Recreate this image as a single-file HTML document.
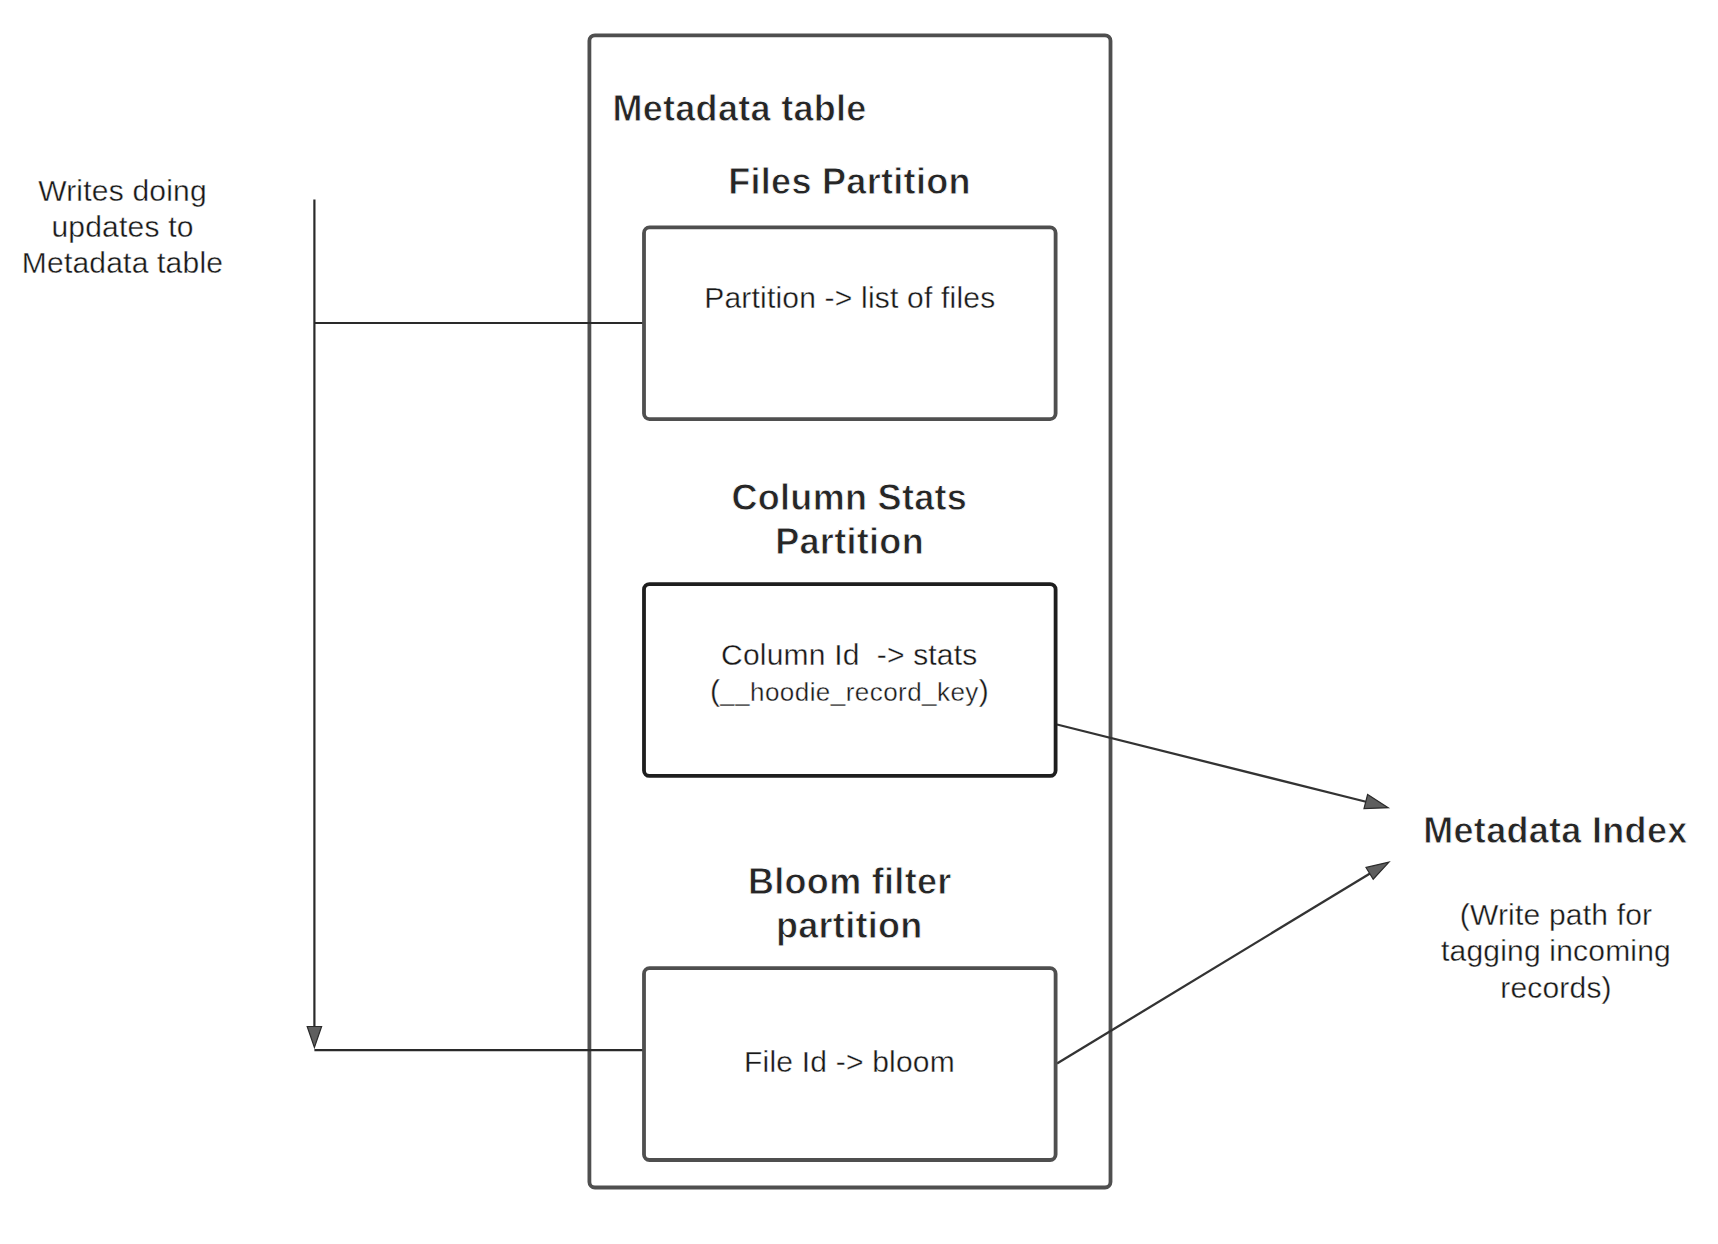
<!DOCTYPE html>
<html>
<head>
<meta charset="utf-8">
<style>
html,body{margin:0;padding:0;background:#fff;width:1718px;height:1244px;overflow:hidden;}
svg{display:block;}
text{font-family:"Liberation Sans",sans-serif;fill:#181818;stroke:#fff;}
.b{font-weight:700;font-size:36px;letter-spacing:0.3px;stroke-width:0.8px;fill:#262626;}
.r{font-weight:400;font-size:30px;letter-spacing:0.2px;stroke-width:0.35px;}
</style>
</head>
<body>
<svg width="1718" height="1244" viewBox="0 0 1718 1244">
  <!-- outer container -->
  <rect x="589.4" y="35.3" width="521.1" height="1152.2" rx="5.5" ry="5.5" fill="none" stroke="#4f4f4f" stroke-width="3.8"/>

  <!-- connectors -->
  <line x1="314.4" y1="199.6" x2="314.4" y2="1030" stroke="#2a2a2a" stroke-width="2.2"/>
  <line x1="314.4" y1="323" x2="644" y2="323" stroke="#2a2a2a" stroke-width="2.2"/>
  <line x1="314.4" y1="1050.2" x2="644" y2="1050.2" stroke="#2a2a2a" stroke-width="2.2"/>
  <polygon points="307.2,1026.5 321.6,1026.5 314.4,1047.5" fill="#5e5e5e" stroke="#2a2a2a" stroke-width="1.2"/>

  <line x1="1057" y1="724.5" x2="1367" y2="802" stroke="#333" stroke-width="2.3"/>
  <polygon points="1388.2,807.7 1367.6,794.5 1364,808.6" fill="#5e5e5e" stroke="#2a2a2a" stroke-width="1.2"/>

  <line x1="1057" y1="1063.5" x2="1370" y2="873.5" stroke="#333" stroke-width="2.3"/>
  <polygon points="1389,862.1 1366,867.5 1373.2,879.2" fill="#5e5e5e" stroke="#2a2a2a" stroke-width="1.2"/>

  <!-- inner boxes -->
  <rect x="644" y="227.4" width="411.6" height="191.7" rx="5.5" ry="5.5" fill="#fff" stroke="#4f4f4f" stroke-width="3.8"/>
  <rect x="644" y="584.1" width="411.6" height="191.8" rx="5.5" ry="5.5" fill="#fff" stroke="#1e1e1e" stroke-width="3.8"/>
  <rect x="644" y="968.2" width="411.6" height="191.8" rx="5.5" ry="5.5" fill="#fff" stroke="#4f4f4f" stroke-width="3.8"/>

  <!-- texts -->
  <text class="b" x="612.4" y="121">Metadata table</text>
  <text class="b" x="849.5" y="193.6" text-anchor="middle">Files Partition</text>
  <text class="r" x="849.8" y="308.4" text-anchor="middle">Partition -&gt; list of files</text>

  <text class="b" x="849.3" y="510" text-anchor="middle">Column Stats</text>
  <text class="b" x="849.6" y="553.5" text-anchor="middle">Partition</text>
  <text class="r" x="849.3" y="664.9" text-anchor="middle" xml:space="preserve">Column Id  -&gt; stats</text>
  <text class="r" x="849.5" y="700.7" text-anchor="middle">(<tspan style="font-size:26px;letter-spacing:0.45px">__hoodie_record_key</tspan>)</text>

  <text class="b" x="849.8" y="894.4" text-anchor="middle">Bloom filter</text>
  <text class="b" x="849.3" y="938.2" text-anchor="middle">partition</text>
  <text class="r" x="849.5" y="1071.8" text-anchor="middle">File Id -&gt; bloom</text>

  <text class="r" x="122.5" y="200.5" text-anchor="middle">Writes doing</text>
  <text class="r" x="122.5" y="236.8" text-anchor="middle">updates to</text>
  <text class="r" x="122.5" y="273.4" text-anchor="middle">Metadata table</text>

  <text class="b" x="1555.4" y="843" text-anchor="middle">Metadata Index</text>
  <text class="r" x="1556" y="924.9" text-anchor="middle">(Write path for</text>
  <text class="r" x="1556" y="961.3" text-anchor="middle">tagging incoming</text>
  <text class="r" x="1556" y="998.2" text-anchor="middle">records)</text>
</svg>
</body>
</html>
